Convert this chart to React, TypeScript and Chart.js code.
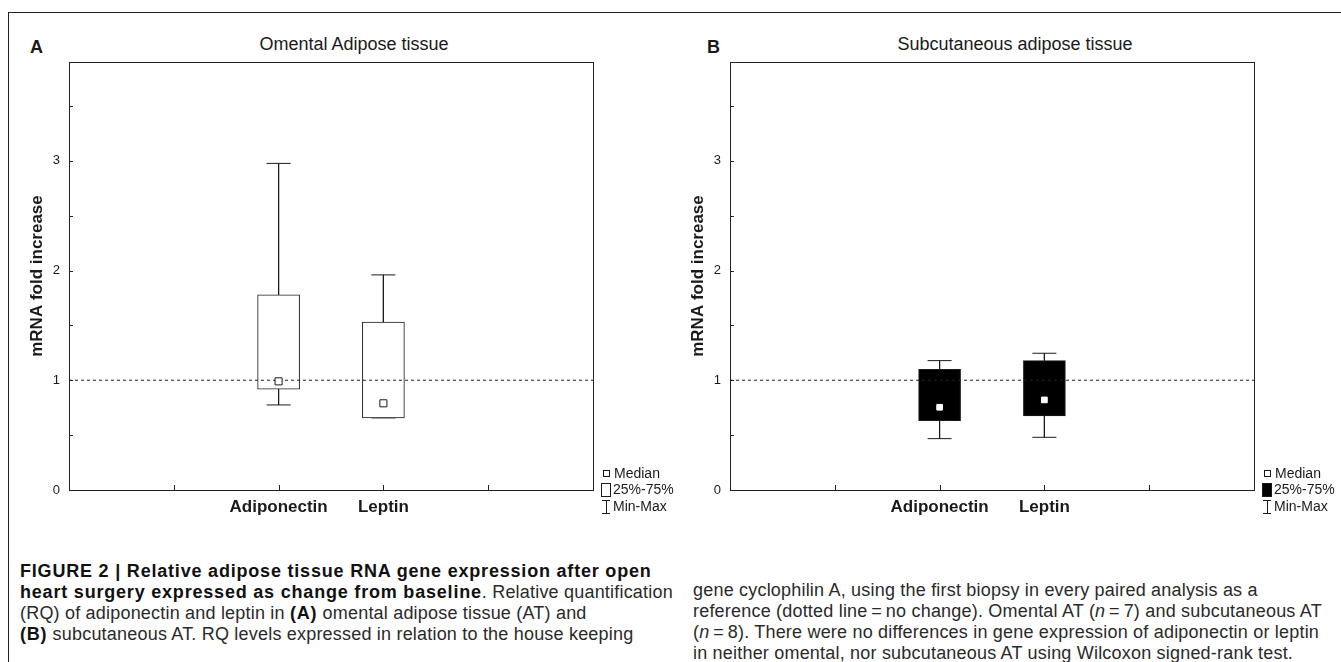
import React, { useEffect, useRef } from "react";
import { Chart, registerables } from "chart.js";

Chart.register(...registerables);

const FONT = '"Liberation Sans", Arial, Helvetica, sans-serif';
const INK = "#1a1a1a";

// ---------- data ----------
const categories = ["Adiponectin", "Leptin"];
const categoryPositions = [2, 3];
const xAxisMin = 0;
const xAxisMax = 5;
const xTickStep = 1;
const yAxisMin = 0;
const yAxisMax = 3.9;
const yTickStep = 0.5;
const yAxisTitle = "mRNA fold increase";
const noChangeLevel = 1;

// Panel A – omental adipose tissue
const omentalMin = [0.775, 0.657];
const omentalQ1 = [0.918, 0.657];
const omentalMedian = [0.99, 0.79];
const omentalQ3 = [1.778, 1.529];
const omentalMax = [2.976, 1.96];

// Panel B – subcutaneous adipose tissue
const subcutMin = [0.468, 0.48];
const subcutQ1 = [0.632, 0.675];
const subcutMedian = [0.754, 0.821];
const subcutQ3 = [1.1, 1.179];
const subcutMax = [1.179, 1.246];

const legendLabels = ["Median", "25%-75%", "Min-Max"];

// ---------- plugins ----------
const frameTicksPlugin = {
  id: "frameTicks",
  afterDatasetsDraw(chart: any) {
    const { ctx, chartArea: a, scales } = chart;
    ctx.save();
    ctx.strokeStyle = "#222";
    ctx.lineWidth = 1;
    ctx.beginPath();
    scales.x.ticks.forEach((t: any) => {
      if (t.value <= scales.x.min || t.value >= scales.x.max) return;
      const px = Math.round(scales.x.getPixelForValue(t.value)) + 0.5;
      ctx.moveTo(px, a.bottom);
      ctx.lineTo(px, a.bottom - 5);
    });
    scales.y.ticks.forEach((t: any) => {
      if (t.value <= scales.y.min || t.value >= scales.y.max) return;
      const py = Math.round(scales.y.getPixelForValue(t.value)) + 0.5;
      ctx.moveTo(a.left, py);
      ctx.lineTo(a.left + 4, py);
    });
    ctx.stroke();
    ctx.strokeRect(
      Math.round(a.left) + 0.5,
      Math.round(a.top) + 0.5,
      Math.round(a.right - a.left),
      Math.round(a.bottom - a.top)
    );
    ctx.restore();
  },
};

const boxLegendPlugin = {
  id: "boxLegend",
  afterDraw(chart: any, _args: any, opts: any) {
    const { ctx, chartArea: a } = chart;
    const x0 = Math.round(a.right);
    const yb = Math.round(a.bottom);
    ctx.save();
    ctx.font = `14px ${FONT}`;
    ctx.lineWidth = 1;
    ctx.strokeStyle = INK;
    ctx.textBaseline = "middle";
    ctx.textAlign = "left";
    // median symbol
    const y1 = yb - 16;
    ctx.fillStyle = "#fff";
    ctx.fillRect(x0 + 10.5, y1 - 3.5, 6, 6);
    ctx.strokeRect(x0 + 10.5, y1 - 3.5, 6, 6);
    ctx.fillStyle = INK;
    ctx.fillText(opts.labels[0], x0 + 21, y1);
    // box symbol
    const y2 = yb;
    ctx.fillStyle = opts.boxFill;
    ctx.fillRect(x0 + 8.5, y2 - 6.5, 9, 13);
    ctx.strokeRect(x0 + 8.5, y2 - 6.5, 9, 13);
    ctx.fillStyle = INK;
    ctx.fillText(opts.labels[1], x0 + 20, y2);
    // min-max symbol
    const y3 = yb + 17;
    ctx.beginPath();
    ctx.moveTo(x0 + 9, y3 - 6.5);
    ctx.lineTo(x0 + 17, y3 - 6.5);
    ctx.moveTo(x0 + 13.5, y3 - 6.5);
    ctx.lineTo(x0 + 13.5, y3 + 6.5);
    ctx.moveTo(x0 + 9, y3 + 6.5);
    ctx.lineTo(x0 + 17, y3 + 6.5);
    ctx.stroke();
    ctx.fillText(opts.labels[2], x0 + 20, y3);
    ctx.restore();
  },
};

type PanelSpec = {
  min: number[];
  q1: number[];
  median: number[];
  q3: number[];
  max: number[];
  boxFill: string;
  medianRadius: number;
  medianBorder: string;
  axisWidth: number;
  padRight: number;
  yTitlePad: number;
};

function buildConfig(p: PanelSpec): any {
  const boxData = categoryPositions.map((x, i) => ({ x, y: [p.q1[i], p.q3[i]] }));
  const whiskerData: any[] = [];
  categoryPositions.forEach((x, i) => {
    whiskerData.push(
      { x, y: p.max[i] },
      { x, y: p.q3[i] },
      { x, y: null },
      { x, y: p.q1[i] },
      { x, y: p.min[i] },
      { x, y: null }
    );
  });
  const medianData = categoryPositions.map((x, i) => ({ x, y: p.median[i] }));
  const refData = [
    { x: xAxisMin, y: noChangeLevel },
    { x: xAxisMax, y: noChangeLevel },
  ];

  return {
    type: "bar",
    data: {
      datasets: [
        {
          type: "line",
          label: "Median",
          data: medianData,
          showLine: false,
          pointStyle: "rect",
          pointRadius: p.medianRadius,
          pointBackgroundColor: "#fff",
          pointBorderColor: p.medianBorder,
          pointBorderWidth: 1,
          order: 0,
        },
        {
          type: "line",
          label: "No change",
          data: refData,
          borderColor: "#222",
          borderWidth: 1,
          borderDash: [3, 3],
          pointRadius: 0,
          order: 1,
        },
        {
          type: "bar",
          label: "25%-75%",
          data: boxData,
          backgroundColor: p.boxFill,
          borderColor: INK,
          borderWidth: 1,
          borderSkipped: false,
          barThickness: 42,
          order: 2,
        },
        {
          type: "line",
          label: "Min-Max",
          data: whiskerData,
          borderColor: INK,
          borderWidth: 1,
          spanGaps: false,
          pointStyle: "line",
          pointRadius: (ctx: any) => (ctx.dataIndex % 6 === 0 || ctx.dataIndex % 6 === 4 ? 12 : 0),
          pointBorderColor: INK,
          pointBorderWidth: 1,
          order: 3,
        },
      ],
    },
    options: {
      animation: false,
      responsive: false,
      maintainAspectRatio: false,
      events: [],
      layout: { padding: { top: 50, right: p.padRight, bottom: 0, left: 0 } },
      plugins: {
        legend: { display: false },
        tooltip: { enabled: false },
        title: { display: false },
        boxLegend: { labels: legendLabels, boxFill: p.boxFill },
      },
      scales: {
        x: {
          type: "linear",
          min: xAxisMin,
          max: xAxisMax,
          offset: false,
          grid: { display: false, drawTicks: false, offset: false },
          border: { display: false },
          ticks: {
            stepSize: xTickStep,
            autoSkip: false,
            maxRotation: 0,
            minRotation: 0,
            padding: 7,
            color: INK,
            font: { family: FONT, size: 17, weight: "bold" },
            callback: (v: any) => {
              const i = categoryPositions.indexOf(Number(v));
              return i >= 0 ? categories[i] : "";
            },
          },
          afterFit: (s: any) => {
            s.height = 32;
          },
        },
        y: {
          type: "linear",
          min: yAxisMin,
          max: yAxisMax,
          grid: { display: false, drawTicks: false },
          border: { display: false },
          ticks: {
            stepSize: yTickStep,
            includeBounds: false,
            padding: 9,
            color: INK,
            font: { family: FONT, size: 13 },
            callback: (v: any) => (Number.isInteger(Number(v)) ? String(v) : ""),
          },
          title: {
            display: true,
            text: yAxisTitle,
            color: INK,
            font: { family: FONT, size: 17, weight: "bold" },
            padding: { top: p.yTitlePad, bottom: 0 },
          },
          afterFit: (s: any) => {
            s.width = p.axisWidth;
          },
        },
      },
    },
    plugins: [frameTicksPlugin, boxLegendPlugin],
  };
}

const panelA: PanelSpec = {
  min: omentalMin,
  q1: omentalQ1,
  median: omentalMedian,
  q3: omentalQ3,
  max: omentalMax,
  boxFill: "#ffffff",
  medianRadius: 5,
  medianBorder: INK,
  axisWidth: 61,
  padRight: 87,
  yTitlePad: 18.8,
};

const panelB: PanelSpec = {
  min: subcutMin,
  q1: subcutQ1,
  median: subcutMedian,
  q3: subcutQ3,
  max: subcutMax,
  boxFill: "#000000",
  medianRadius: 4,
  medianBorder: "#ffffff",
  axisWidth: 50,
  padRight: 87,
  yTitlePad: 7.8,
};

function BoxChart(props: { spec: PanelSpec; left: number; top: number; width: number; height: number }) {
  const ref = useRef<HTMLCanvasElement>(null);
  useEffect(() => {
    Chart.defaults.font.family = FONT;
    const chart = new Chart(ref.current as HTMLCanvasElement, buildConfig(props.spec));
    return () => chart.destroy();
  }, []);
  return (
    <canvas
      ref={ref}
      width={props.width}
      height={props.height}
      style={{ position: "absolute", left: props.left, top: props.top, width: props.width, height: props.height }}
    />
  );
}

const B = (p: { children: React.ReactNode }) => (
  <span style={{ fontWeight: 700, letterSpacing: "0.8px", color: "#111" }}>{p.children}</span>
);

const lineStyle: React.CSSProperties = { height: 21, lineHeight: "21px", whiteSpace: "nowrap" };
const captionStyle: React.CSSProperties = {
  position: "absolute",
  fontSize: 18,
  letterSpacing: "0.2px",
  color: "#2a2a2a",
};

export default function App() {
  return (
    <div
      style={{
        position: "absolute",
        left: 0,
        top: 0,
        width: 1341,
        height: 662,
        overflow: "hidden",
        background: "#fff",
        fontFamily: FONT,
        color: INK,
      }}
    >
      <div style={{ position: "absolute", left: 8, top: 11.5, width: 1333, height: 1.5, background: "#222" }} />
      <div style={{ position: "absolute", left: 7.5, top: 11.5, width: 1.5, height: 651, background: "#222" }} />

      <div style={{ position: "absolute", left: 30, top: 38, fontSize: 18, lineHeight: "18px", fontWeight: 700 }}>A</div>
      <div style={{ position: "absolute", left: 707, top: 38, fontSize: 18, lineHeight: "18px", fontWeight: 700 }}>B</div>

      <div
        style={{ position: "absolute", left: 204, top: 35, width: 300, textAlign: "center", fontSize: 18, lineHeight: "18px" }}
      >
        Omental Adipose tissue
      </div>
      <div
        style={{ position: "absolute", left: 865, top: 35, width: 300, textAlign: "center", fontSize: 18, lineHeight: "18px" }}
      >
        Subcutaneous adipose tissue
      </div>

      <BoxChart spec={panelA} left={8} top={12} width={672} height={510} />
      <BoxChart spec={panelB} left={680} top={12} width={661} height={510} />

      <div style={{ ...captionStyle, left: 20, top: 561 }}>
        <div style={lineStyle}>
          <B>FIGURE 2 | Relative adipose tissue RNA gene expression after open</B>
        </div>
        <div style={lineStyle}>
          <B>heart surgery expressed as change from baseline</B>. Relative quantification
        </div>
        <div style={lineStyle}>
          (RQ) of adiponectin and leptin in <B>(A)</B> omental adipose tissue (AT) and
        </div>
        <div style={lineStyle}>
          <B>(B)</B> subcutaneous AT. RQ levels expressed in relation to the house keeping
        </div>
      </div>

      <div style={{ ...captionStyle, left: 693, top: 580 }}>
        <div style={lineStyle}>gene cyclophilin A, using the first biopsy in every paired analysis as a</div>
        <div style={lineStyle}>
          reference (dotted line{"\u2009=\u2009"}no change). Omental AT (<i>n</i>
          {"\u2009=\u2009"}7) and subcutaneous AT
        </div>
        <div style={lineStyle}>
          (<i>n</i>
          {"\u2009=\u2009"}8). There were no differences in gene expression of adiponectin or leptin
        </div>
        <div style={lineStyle}>in neither omental, nor subcutaneous AT using Wilcoxon signed-rank test.</div>
      </div>
    </div>
  );
}
